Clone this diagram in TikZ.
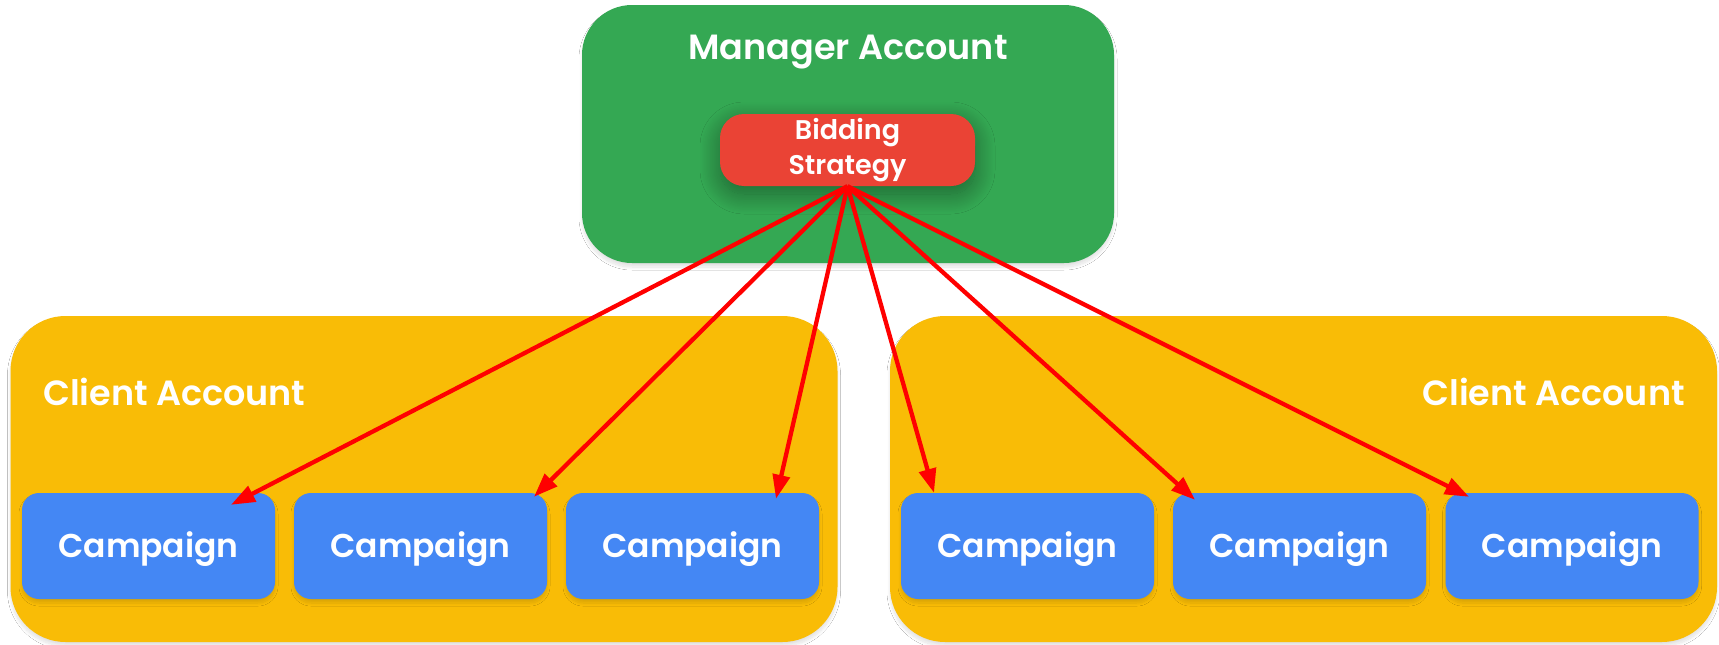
\documentclass[tikz,border=0pt]{standalone}
\usepackage{fontspec}
\IfFontExistsTF{Poppins SemiBold}{\setmainfont{Poppins}[BoldFont={Poppins SemiBold}]}{\setmainfont{Poppins}}
\usetikzlibrary{calc,arrows.meta,shadows.blur}
\definecolor{mgreen}{HTML}{34A853}
\definecolor{bred}{HTML}{EA4335}
\definecolor{cyellow}{HTML}{F9BC06}
\definecolor{cblue}{HTML}{4487F4}
\definecolor{arrred}{HTML}{FF0000}
\begin{document}
\begin{tikzpicture}[x=1pt,y=-1pt,
  softshadow/.style={blur shadow={shadow xshift=0pt,shadow yshift=-4pt,shadow opacity=12,shadow blur radius=3pt,shadow blur steps=12}},
  manager/.style={fill=mgreen,rounded corners=50pt,minimum width=532pt,minimum height=258pt,softshadow,inner sep=0pt},
  bidbox/.style={fill=bred,rounded corners=24pt,minimum width=255pt,minimum height=72pt,inner sep=0pt,
    blur shadow={shadow xshift=0pt,shadow yshift=-8pt,shadow opacity=40,shadow blur radius=20pt,shadow blur steps=30},
    text=white,font=\bfseries\fontsize{27}{35}\selectfont,align=center},
  client/.style={fill=cyellow,rounded corners=55pt,minimum width=827pt,minimum height=326pt,softshadow,inner sep=0pt},
  campbox/.style={fill=cblue,rounded corners=17pt,minimum width=253pt,minimum height=106pt,inner sep=0pt,softshadow,
    text depth=2pt,text=white,font=\bfseries\fontsize{33}{38}\selectfont},
  title/.style={text=white,font=\bfseries\fontsize{35}{40}\selectfont,inner sep=0pt},
  link/.style={draw=arrred,line width=4.3pt,-{Triangle[length=24pt,width=17pt]}}
]
\useasboundingbox[fill=white] (0,0) rectangle (1719,645);
\node[manager] (mgr) at (848,134) {};
\node[title] (mgrt) at (848,52) {Manager Account};
\node[client] (cl) at (424,479) {};
\node[client] (cr) at (1303.5,479) {};
\node[title,anchor=west] (clt) at (43,392) {Client Account};
\node[title,anchor=east] (crt) at (1685,392) {Client Account};
\node[campbox] (c1) at (148.5,546) {Campaign};
\node[campbox] (c2) at (420.5,546) {Campaign};
\node[campbox] (c3) at (692.5,546) {Campaign};
\node[campbox] (c4) at (1027.5,546) {Campaign};
\node[campbox] (c5) at (1299.5,546) {Campaign};
\node[campbox] (c6) at (1572,546) {Campaign};
\node[bidbox] (bid) at (847.5,150) {Bidding\\Strategy};
\draw[link] (bid.south) -- ($(c1.north)+(82.5,12)$);
\draw[link] (bid.south) -- ($(c2.north)+(113.5,4)$);
\draw[link] (bid.south) -- ($(c3.north)+(83.5,6)$);
\draw[link] (bid.south) -- ($(c4.north)+(-93.5,0)$);
\draw[link] (bid.south) -- ($(c5.north)+(-104.5,7)$);
\draw[link] (bid.south) -- ($(c6.north)+(-103,4)$);
\end{tikzpicture}
\end{document}
